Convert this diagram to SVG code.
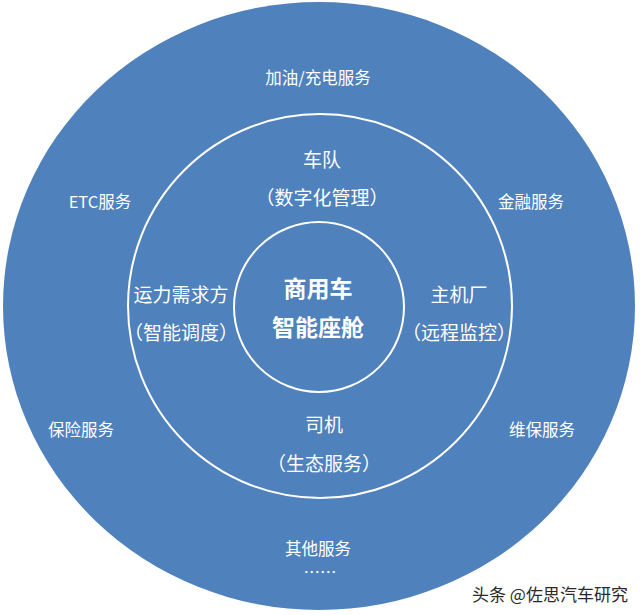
<svg xmlns="http://www.w3.org/2000/svg" width="640" height="615" viewBox="0 0 640 615">
<style>
  .t { font-family: "Noto Sans CJK SC", "Liberation Sans", sans-serif; fill: #ffffff; text-anchor: middle; dominant-baseline: central; }
  .outer { font-size: 16.5px; }
  .mid { font-size: 19px; }
  .core { font-size: 23px; font-weight: bold; }
  .ring { fill: none; stroke: #ffffff; stroke-width: 2; }
  .wm { font-family: "Noto Sans CJK SC", "Liberation Sans", sans-serif; font-size: 17px; fill: #2a2a2a; stroke: #ffffff; stroke-width: 2.5; paint-order: stroke; stroke-linejoin: round; }
</style>
<rect width="640" height="615" fill="#ffffff"/>
<g id="outer-circle">
  <ellipse cx="319" cy="306" rx="316" ry="304" fill="#4F81BD"/>
</g>
<g id="middle-ring">
  <circle class="ring" cx="320" cy="306" r="192"/>
</g>
<g id="core">
  <circle class="ring" cx="319" cy="307" r="85"/>
  <text class="t core" x="318" y="287">商用车</text>
  <text class="t core" x="318" y="326">智能座舱</text>
</g>
<g id="node-fleet">
  <text class="t mid" x="322" y="158">车队</text>
  <text class="t mid" x="322" y="196">（数字化管理）</text>
</g>
<g id="node-demand">
  <text class="t mid" x="181" y="293">运力需求方</text>
  <text class="t mid" x="181" y="331">（智能调度）</text>
</g>
<g id="node-oem">
  <text class="t mid" x="459" y="293">主机厂</text>
  <text class="t mid" x="459" y="331">（远程监控）</text>
</g>
<g id="node-driver">
  <text class="t mid" x="324" y="423">司机</text>
  <text class="t mid" x="324" y="462">（生态服务）</text>
</g>
<g id="svc-fuel"><text class="t outer" x="318" y="77">加油/充电服务</text></g>
<g id="svc-etc"><text class="t outer" x="100" y="201">ETC服务</text></g>
<g id="svc-finance"><text class="t outer" x="531" y="201">金融服务</text></g>
<g id="svc-insurance"><text class="t outer" x="81" y="429">保险服务</text></g>
<g id="svc-maintenance"><text class="t outer" x="542" y="429">维保服务</text></g>
<g id="svc-other">
  <text class="t outer" x="318" y="548">其他服务</text>
  <text class="t outer" x="320" y="572">……</text>
</g>
<g id="watermark">
  <text class="wm" x="472" y="601">头条 @佐思汽车研究</text>
</g>
</svg>
